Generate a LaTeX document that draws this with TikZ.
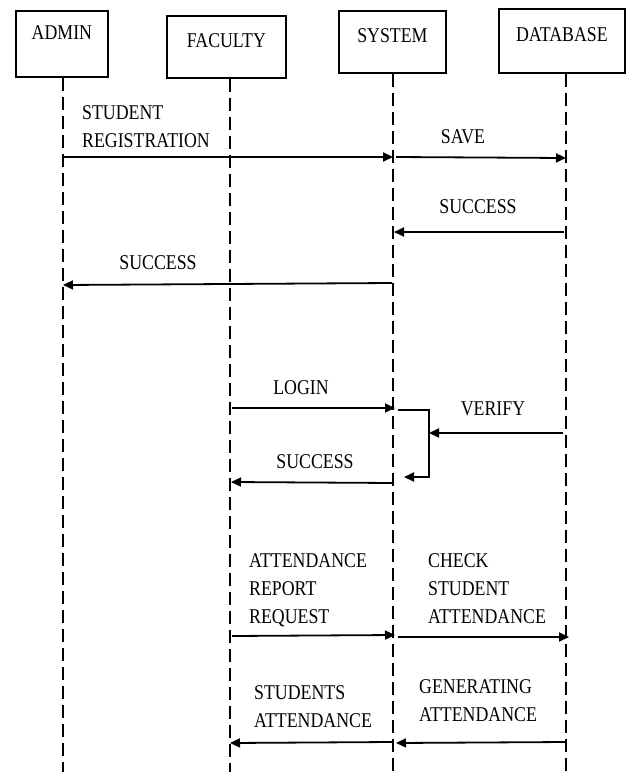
\documentclass[tikz,border=0pt]{standalone}
\usepackage{fontspec}
\usepackage{graphicx}
\setmainfont{Liberation Serif}
\usetikzlibrary{arrows.meta}
\newcommand\vs[1]{\scalebox{1}[1.18]{#1}}
\begin{document}
\begin{tikzpicture}[x=1pt,y=-1pt,
  every node/.style={font=\fontsize{17.8}{28}\selectfont},
  actor/.style={draw,line width=1.8pt,inner xsep=0pt,inner ysep=0pt,anchor=north west},
  life/.style={line width=1.2pt,dash pattern=on 13pt off 6pt},
  msg/.style={line width=1.8pt,-{Triangle[length=10pt,width=9pt]}},
  lbl/.style={inner sep=0pt,align=left},
  ]
\useasboundingbox (0,0) rectangle (629,772);
\fill[white] (0,0) rectangle (629,772);
% actor boxes
\node[actor,minimum width=92pt,text height=29pt,text depth=37pt] (admin) at (15,10) {\vs{ADMIN}};
\node[actor,minimum width=119pt,text height=32pt,text depth=30pt] (faculty) at (166,15) {\vs{FACULTY}};
\node[actor,minimum width=107pt,text height=32pt,text depth=30pt] (system) at (338,10) {\vs{SYSTEM}};
\node[actor,minimum width=126pt,text height=33pt,text depth=31pt] (database) at (498,8) {\vs{DATABASE}};
% lifeline ends
\coordinate (la) at (63,772);
\coordinate (lf) at (230,772);
\coordinate (ls) at (393,772);
\coordinate (ld) at (566,772);
\draw[life] (la |- admin.south) -- (la);
\draw[life] (lf |- faculty.south) -- (lf);
\draw[life] (ls |- system.south) -- (ls);
\draw[life] (ld |- database.south) -- (ld);
% message points
\coordinate (a1) at (63,157);  \coordinate (s1) at (393,157);
\coordinate (s2) at (396,157); \coordinate (d2) at (566,158);
\coordinate (d3) at (564,232); \coordinate (s3) at (394,232);
\coordinate (s4) at (392,283); \coordinate (a4) at (63,285);
\coordinate (f5) at (232,408); \coordinate (s5) at (395,408);
\coordinate (b1) at (398,410); \coordinate (b2) at (429,410);
\coordinate (b3) at (429,477); \coordinate (b4) at (404,477);
\coordinate (d7) at (563,433); \coordinate (b7) at (429,433);
\coordinate (s8) at (394,483); \coordinate (f8) at (231,482);
\coordinate (f9) at (232,636); \coordinate (s9) at (395,635);
\coordinate (s10) at (398,637); \coordinate (d10) at (569,637);
\coordinate (s11) at (392,742); \coordinate (f11) at (230,743);
\coordinate (d12) at (566,742); \coordinate (s12) at (396,743);
% messages
\draw[msg] (a1) -- (s1);
\draw[msg] (s2) -- (d2);
\draw[msg] (d3) -- (s3);
\draw[msg] (s4) -- (a4);
\draw[msg] (f5) -- (s5);
\draw[msg] (b1) -- (b2) -- (b3) -- (b4);
\draw[msg] (d7) -- (b7);
\draw[msg] (s8) -- (f8);
\draw[msg] (f9) -- (s9);
\draw[msg] (s10) -- (d10);
\draw[msg] (s11) -- (f11);
\draw[msg] (d12) -- (s12);
% labels (base anchor = last line baseline)
\node[lbl,anchor=base west] (t1) at (82,147) {\vs{STUDENT}\\\vs{REGISTRATION}};
\node[lbl,anchor=base] (t2) at (463,143) {\vs{SAVE}};
\node[lbl,anchor=base] (t3) at (478,213) {\vs{SUCCESS}};
\node[lbl,anchor=base] (t4) at (158,269) {\vs{SUCCESS}};
\node[lbl,anchor=base] (t5) at (301,394) {\vs{LOGIN}};
\node[lbl,anchor=base] (t7) at (493,415) {\vs{VERIFY}};
\node[lbl,anchor=base] (t8) at (315,468) {\vs{SUCCESS}};
\node[lbl,anchor=base west] (t9) at (249,623) {\vs{ATTENDANCE}\\\vs{REPORT}\\\vs{REQUEST}};
\node[lbl,anchor=base west] (t10) at (428,623) {\vs{CHECK}\\\vs{STUDENT}\\\vs{ATTENDANCE}};
\node[lbl,anchor=base west] (t11) at (254,727) {\vs{STUDENTS}\\\vs{ATTENDANCE}};
\node[lbl,anchor=base west] (t12) at (419,721) {\vs{GENERATING}\\\vs{ATTENDANCE}};
\end{tikzpicture}
\end{document}
